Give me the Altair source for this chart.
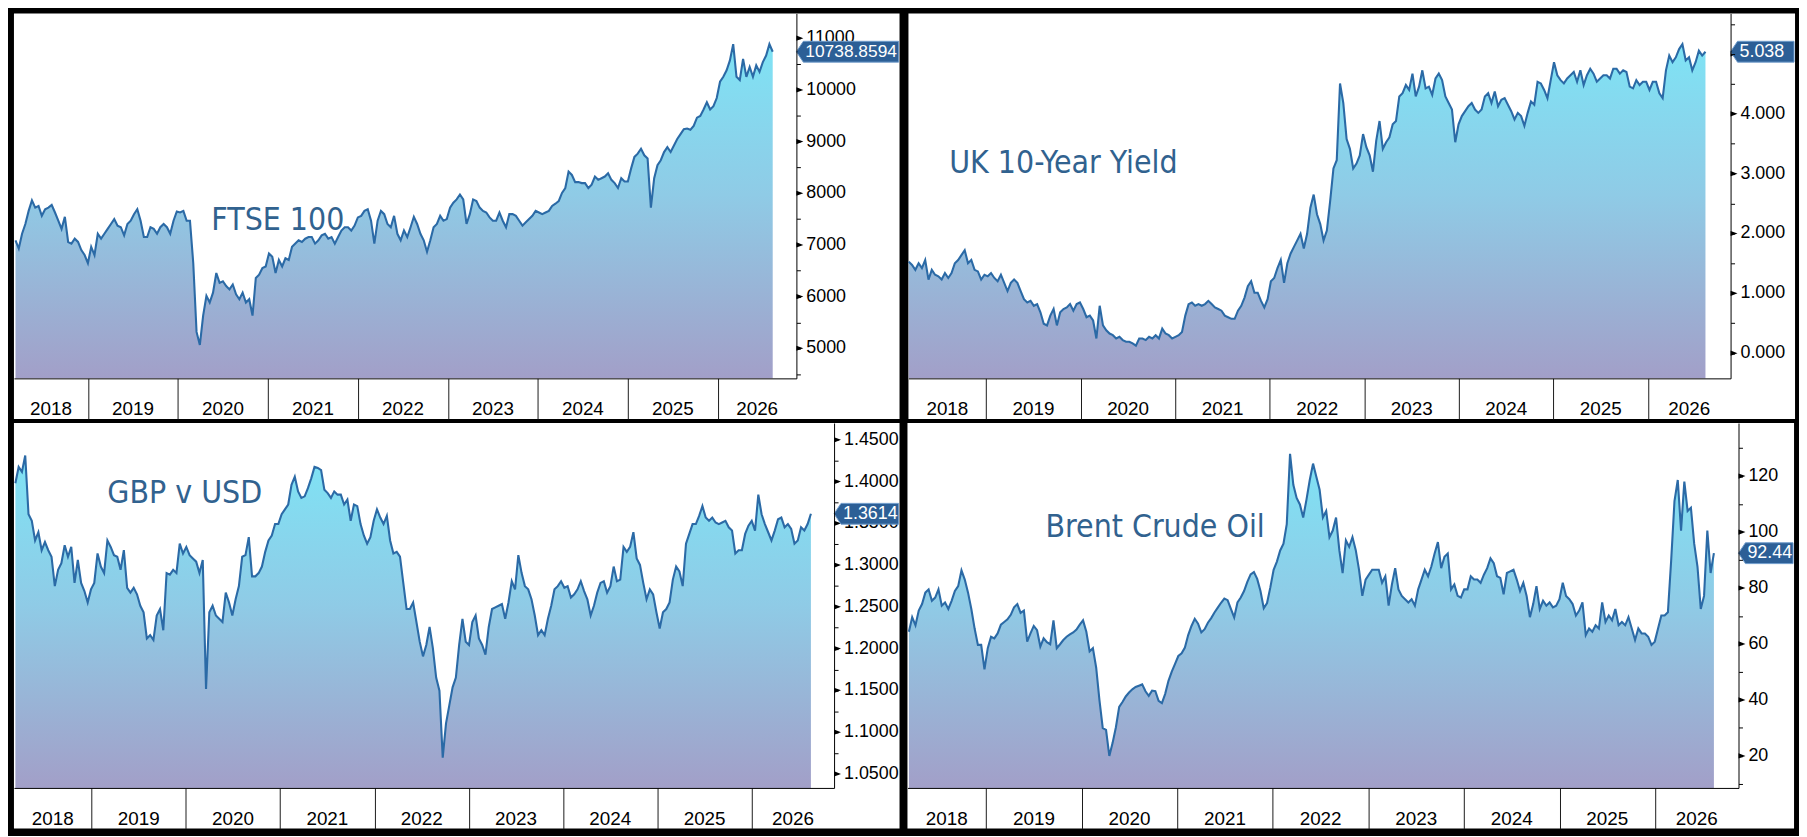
import altair as alt
import numpy as np
import pandas as pd

# ---------------- shared time axis (fractional years) ----------------
X_DOMAIN = [2018.177, 2026.873]
YEAR_TICKS = [2019, 2020, 2021, 2022, 2023, 2024, 2025, 2026]
YEAR_LABELS = ["2018", "2019", "2020", "2021", "2022", "2023", "2024", "2025", "2026"]

# ---------------- FTSE 100 ----------------
FTSE_T0, FTSE_STEP = 2018.194, 0.03659
FTSE = [
    7089, 6930, 7215, 7405, 7658, 7861, 7722, 7753, 7563, 7690,
    7722, 7772, 7627, 7468, 7310, 7544, 7057, 7025, 7120, 7057,
    6899, 6804, 6646, 6962, 6804, 7215, 7120, 7215, 7310, 7405,
    7500, 7373, 7342, 7184, 7405, 7468, 7595, 7690, 7468, 7152,
    7152, 7342, 7310, 7215, 7342, 7405, 7342, 7215, 7468, 7646,
    7627, 7658, 7468, 7468, 6646, 5316, 5063, 5633, 6013, 5886,
    6076, 6456, 6266, 6297, 6203, 6139, 6234, 6044, 5949, 6076,
    5886, 5949, 5633, 6361, 6424, 6551, 6582, 6835, 6772, 6456,
    6709, 6582, 6741, 6709, 6962, 7025, 7089, 7057, 7120, 7152,
    7152, 7025, 7089, 7184, 7215, 7120, 7152, 7025, 7152, 7278,
    7342, 7342, 7278, 7373, 7532, 7563, 7658, 7690, 7468, 7025,
    7468, 7658, 7595, 7405, 7342, 7563, 7215, 7089, 7278,
    7152, 7342, 7544, 7405, 7215, 7089, 6867, 7089, 7342, 7405,
    7563, 7468, 7500, 7722, 7816, 7880, 7975, 7880, 7405, 7595,
    7880, 7848, 7722, 7658, 7627, 7532, 7468, 7468, 7627, 7468,
    7342, 7595, 7595, 7563, 7468, 7373, 7437, 7500, 7563, 7658,
    7627, 7595, 7627, 7658, 7753, 7797, 7848, 8006, 8101, 8418,
    8354, 8215, 8215, 8196, 8196, 8101, 8165, 8323, 8259, 8291,
    8323, 8386, 8259, 8196, 8101, 8291, 8228, 8228, 8481, 8703,
    8766, 8861, 8734, 8671, 7722, 8291, 8544, 8639, 8797, 8892,
    8797, 8924, 9051, 9145, 9241, 9253, 9228, 9304, 9462, 9494,
    9620, 9759, 9620, 9684, 9842, 10158, 10253, 10380, 10570, 10886,
    10253, 10190, 10601, 10253, 10443, 10253, 10475, 10348, 10538, 10664,
    10886, 10738.8594,
]
FTSE_YDOM = [4417, 11480]
FTSE_MINOR = list(range(4500, 11001, 500))
FTSE_MAJOR = list(range(5000, 11001, 1000))

# ---------------- UK 10-Year Yield ----------------
UK_T0, UK_STEP = 2018.180, 0.034824
UK10Y = [
    1.530, 1.475, 1.393, 1.503, 1.421, 1.557, 1.230, 1.393, 1.311, 1.284,
    1.230, 1.339, 1.257, 1.339, 1.503, 1.557, 1.639, 1.721, 1.503, 1.557,
    1.393, 1.366, 1.230, 1.311, 1.284, 1.339, 1.257, 1.202, 1.311, 1.175,
    1.038, 1.175, 1.230, 1.175, 1.038, 0.902, 0.847, 0.874, 0.792, 0.820,
    0.683, 0.492, 0.464, 0.628, 0.738, 0.464, 0.683, 0.738, 0.765, 0.820,
    0.710, 0.820, 0.847, 0.738, 0.601, 0.628, 0.546, 0.246, 0.792, 0.464,
    0.383, 0.328, 0.301, 0.246, 0.273, 0.219, 0.191, 0.191, 0.164, 0.126,
    0.246, 0.246, 0.219, 0.273, 0.246, 0.301, 0.246, 0.410, 0.328, 0.301,
    0.246, 0.273, 0.301, 0.355, 0.628, 0.820, 0.847, 0.792, 0.820, 0.792,
    0.820, 0.874, 0.820, 0.765, 0.738, 0.710, 0.628, 0.601, 0.574, 0.574,
    0.710, 0.792, 0.929, 1.120, 1.202, 1.011, 1.011, 0.874, 0.765, 0.902,
    1.202, 1.257, 1.421, 1.557, 1.175, 1.503, 1.667, 1.776, 1.885, 1.995,
    1.749, 1.995, 2.432, 2.650, 2.322,
    2.158, 1.885, 2.049, 2.541, 3.087, 3.224, 4.508, 4.180, 3.579, 3.415,
    3.087, 3.169, 3.306, 3.661, 3.443, 3.306, 3.033, 3.552, 3.880, 3.415,
    3.525, 3.607, 3.825, 3.880, 4.290, 4.344, 4.481, 4.399, 4.672, 4.290,
    4.454, 4.727, 4.426, 4.454, 4.317, 4.590, 4.672, 4.563, 4.290, 4.180,
    4.071, 3.525, 3.825, 3.962, 4.044, 4.126, 4.180, 4.071, 4.016, 4.071,
    4.290, 4.344, 4.180, 4.372, 4.126, 4.235, 4.262, 4.153, 4.044, 3.907,
    4.016, 3.962, 3.798, 4.016, 4.208, 4.153, 4.536, 4.508, 4.399, 4.262,
    4.563, 4.863, 4.645, 4.563, 4.508, 4.590, 4.645, 4.699, 4.536, 4.727,
    4.481, 4.645, 4.754, 4.672, 4.536, 4.590, 4.645, 4.645, 4.590, 4.754,
    4.754, 4.672, 4.727, 4.699, 4.454, 4.426, 4.563, 4.481, 4.536, 4.536,
    4.399, 4.536, 4.536, 4.344, 4.262, 4.727, 4.973, 4.863, 4.945, 5.082,
    5.164, 4.891, 4.945, 4.727, 4.863, 5.055, 4.973, 5.038,
]
UK_YDOM = [-0.421, 5.678]
UK_MINOR = [0.0, 0.5, 1.0, 1.5, 2.0, 2.5, 3.0, 3.5, 4.0, 4.5, 5.0, 5.5]
UK_MAJOR = [0.0, 1.0, 2.0, 3.0, 4.0, 5.0]

# ---------------- GBP v USD ----------------
GBP_T0, GBP_STEP = 2018.192, 0.034857
GBPUSD = [
    1.3980, 1.4175, 1.4116, 1.4312, 1.3608, 1.3530, 1.3295, 1.3393, 1.3178, 1.3276,
    1.3178, 1.3100, 1.2748, 1.2943, 1.3022, 1.3237, 1.3100, 1.3217, 1.2787, 1.3061,
    1.2787, 1.2689, 1.2552, 1.2709, 1.2787, 1.3139, 1.2982, 1.2904, 1.3295, 1.3217,
    1.3119, 1.3100, 1.2943, 1.3178, 1.2728, 1.2670, 1.2728, 1.2650, 1.2513, 1.2435,
    1.2122, 1.2161, 1.2103, 1.2396, 1.2474, 1.2220, 1.2904, 1.2885, 1.2943, 1.2904,
    1.3256, 1.3139, 1.3217, 1.3119, 1.3080, 1.3041, 1.2904, 1.3061, 1.1516, 1.2435,
    1.2513, 1.2396, 1.2357, 1.2318, 1.2670, 1.2552, 1.2396, 1.2591, 1.2748, 1.3100,
    1.3119, 1.3334, 1.2865, 1.2865, 1.2904, 1.2982, 1.3158, 1.3295, 1.3354, 1.3491,
    1.3491, 1.3608, 1.3667, 1.3725, 1.3960, 1.4058, 1.3882, 1.3804, 1.3823, 1.3921,
    1.4038, 1.4175, 1.4163, 1.4136, 1.3901, 1.3862, 1.3804, 1.3882, 1.3843, 1.3843,
    1.3725, 1.3784, 1.3530, 1.3725, 1.3706, 1.3491, 1.3354, 1.3256, 1.3334, 1.3530,
    1.3667, 1.3569, 1.3491, 1.3589, 1.3295, 1.3139, 1.3158, 1.3100, 1.2787, 1.2474,
    1.2474, 1.2552, 1.2318, 1.2083, 1.1907,
    1.2044, 1.2259, 1.2005, 1.1653, 1.1497, 1.0695, 1.1106, 1.1321, 1.1536, 1.1653,
    1.2044, 1.2357, 1.2083, 1.2044, 1.2318, 1.2396, 1.2122, 1.2044, 1.1927, 1.2259,
    1.2474, 1.2494, 1.2513, 1.2533, 1.2357, 1.2552, 1.2807, 1.2709, 1.3119, 1.2904,
    1.2748, 1.2709, 1.2591, 1.2396, 1.2161, 1.2220, 1.2161, 1.2357, 1.2513, 1.2709,
    1.2748, 1.2807, 1.2728, 1.2748, 1.2611, 1.2650, 1.2709, 1.2807, 1.2689, 1.2591,
    1.2396, 1.2513, 1.2670, 1.2787, 1.2807, 1.2670, 1.2748, 1.2982, 1.2807, 1.2826,
    1.3217, 1.3158, 1.3217, 1.3393, 1.3080, 1.3002, 1.2787, 1.2591, 1.2709, 1.2650,
    1.2435, 1.2240, 1.2435, 1.2474, 1.2552, 1.2826, 1.2982, 1.2924, 1.2748, 1.3256,
    1.3373, 1.3491, 1.3491, 1.3589, 1.3706, 1.3569, 1.3530, 1.3569, 1.3510, 1.3491,
    1.3510, 1.3530, 1.3452, 1.3413, 1.3139, 1.3178, 1.3178, 1.3373, 1.3471, 1.3530,
    1.3413, 1.3843, 1.3608, 1.3491, 1.3393, 1.3295, 1.3413, 1.3549, 1.3569, 1.3452,
    1.3491, 1.3432, 1.3256, 1.3295, 1.3452, 1.3413, 1.3491, 1.3614,
]
GBP_YDOM = [1.0332, 1.4701]
GBP_MINOR = [round(1.05 + 0.025 * i, 4) for i in range(17)]
GBP_MAJOR = [1.05, 1.10, 1.15, 1.20, 1.25, 1.30, 1.35, 1.40, 1.45]

# ---------------- Brent Crude Oil ----------------
BRENT_T0, BRENT_STEP = 2018.192, 0.034382
BRENT = [
    64.34, 69.59, 66.68, 71.93, 74.26, 78.34, 79.51, 75.43, 76.59, 79.51,
    73.68, 74.84, 72.51, 75.43, 78.93, 80.68, 86.28, 83.01, 78.34, 72.51,
    65.51, 59.67, 59.67, 50.92, 58.51, 62.59, 62.01, 63.76, 66.91, 67.84,
    68.78, 70.41, 73.09, 74.26, 71.11, 71.93, 60.84, 63.76, 66.44, 64.92,
    59.09, 62.01, 60.61, 59.91, 68.43, 58.51, 59.91, 61.42, 62.59, 63.41,
    64.11, 65.16, 66.91, 68.43, 64.34, 57.34, 58.51, 51.51, 39.84, 29.92,
    29.33, 20.00, 24.67, 30.26, 37.50, 39.25, 41.24, 42.64, 43.80, 44.62,
    45.09, 45.55, 43.10, 41.47, 43.34, 43.10, 39.72, 38.90, 42.17, 46.84,
    50.10, 52.91, 55.71, 56.64, 58.74, 63.17, 66.44, 69.01, 67.26, 64.11,
    65.28, 67.61, 69.24, 71.23, 72.98, 74.73, 76.24, 75.66, 72.51, 69.48,
    74.84, 76.59, 78.93, 82.20, 84.88, 85.70, 83.25, 78.93, 72.74, 74.61,
    80.21, 86.51, 89.43, 93.40, 95.85, 102.85, 127.94, 116.85, 112.18, 109.85,
    105.18, 111.60, 118.60, 124.44, 119.77, 115.10, 105.18, 107.52,
    98.18, 100.52, 105.18, 93.51, 85.35, 97.01, 94.68, 98.18, 93.51, 86.51,
    77.18, 83.01, 84.76, 86.51, 86.51, 86.51, 81.85, 84.18, 73.68, 81.26,
    87.10, 79.51, 77.18, 76.01, 74.84, 76.01, 73.68, 79.51, 83.01, 86.51,
    84.18, 87.68, 92.35, 96.43, 87.10, 91.18, 92.35, 79.51, 81.26, 77.18,
    76.59, 79.51, 79.51, 84.18, 83.01, 83.01, 81.85, 84.76, 87.10, 90.60,
    88.85, 84.18, 83.60, 77.76, 85.35, 85.93, 86.51, 83.01, 78.93, 81.85,
    77.18, 69.59, 74.26, 80.68, 72.51, 75.43, 73.68, 74.84, 73.09, 73.68,
    76.01, 81.85, 77.18, 76.01, 74.26, 70.18, 71.93, 74.84, 63.17, 65.51,
    64.34, 66.68, 65.51, 74.84, 67.84, 70.18, 68.43, 72.51, 66.68, 67.84,
    66.68, 69.59, 65.51, 61.42, 65.51, 63.76, 63.76, 62.59, 59.67, 60.84,
    65.51, 70.18, 70.18, 71.34, 90.01, 111.02, 118.60, 100.52, 118.02, 107.52,
    108.68, 95.85, 87.68, 72.51, 77.18, 100.52, 85.35, 92.44,
]
BRENT_YDOM = [8.56, 138.96]
BRENT_MINOR = list(range(10, 131, 10))
BRENT_MAJOR = [20, 40, 60, 80, 100, 120]

# ---------------- styling ----------------
LINE_COLOR = "#2B6AA6"
TITLE_COLOR = "#31628F"
FLAG_FILL = "#2C5F96"
FLAG_EDGE = "#6F9CCB"
AXIS_FONT = "Liberation Sans, Arial, sans-serif"
TITLE_FONT = "DejaVu Sans Condensed, Liberation Sans Narrow, DejaVu Sans, sans-serif"
GRAD = alt.Gradient(
    gradient="linear",
    stops=[
        alt.GradientStop(color="#7FE3F5", offset=0),
        alt.GradientStop(color="#8FCBE6", offset=0.45),
        alt.GradientStop(color="#A29FC8", offset=1),
    ],
    x1=0, x2=0, y1=0, y2=1,
)
TRI = "M-1,-0.75 L1,0 L-1,0.75 Z"


def year_label_positions():
    pos = [(X_DOMAIN[0] + 2019) / 2]
    pos += [y + 0.5 for y in range(2019, 2026)]
    pos += [(2026 + X_DOMAIN[1]) / 2]
    return pos


def panel(values, t0, step, ydom, minor_vals, major_vals, fmt, last_text,
          title, title_t, title_v, W, H, R, B, flag_font=18):
    t = t0 + step * np.arange(len(values))
    df = pd.DataFrame({"t": t, "v": values})
    xs = alt.Scale(domain=X_DOMAIN, nice=False, zero=False)
    ys = alt.Scale(domain=ydom, nice=False, zero=False)
    X = alt.X("t:Q", scale=xs,
              axis=alt.Axis(values=YEAR_TICKS, labels=False, tickSize=B,
                            tickColor="#1a1a1a", domainColor="#000000",
                            grid=False, title=None, zindex=1))
    Y = alt.Y("v:Q", scale=ys,
              axis=alt.Axis(orient="right", values=minor_vals, labels=False,
                            tickSize=4, tickColor="#000000",
                            domainColor="#000000", grid=False, title=None,
                            zindex=1))

    bg = alt.Chart(pd.DataFrame({"a": [0]})).mark_rect(color="white").encode(
        x=alt.value(0), x2=alt.value(W + R), y=alt.value(0), y2=alt.value(H + B))

    area = alt.Chart(df).mark_area(color=GRAD, opacity=1).encode(
        x=X, y=Y, y2=alt.datum(ydom[0]))
    line = alt.Chart(df).mark_line(color=LINE_COLOR, strokeWidth=2.1).encode(x=X, y=Y)

    ttl = alt.Chart(pd.DataFrame({"t": [title_t], "v": [title_v], "label": [title]})).mark_text(
        align="left", baseline="alphabetic", font=TITLE_FONT, fontSize=32,
        color=TITLE_COLOR).encode(x=X, y=Y, text="label:N")

    years = alt.Chart(pd.DataFrame({"t": year_label_positions(), "label": YEAR_LABELS})).mark_text(
        align="center", baseline="middle", font=AXIS_FONT, fontSize=19,
        color="#000000").encode(x=X, y=alt.value(H + 31), text="label:N")

    ylab = alt.Chart(pd.DataFrame({"v": major_vals,
                                   "label": [format(v, fmt) for v in major_vals]})).mark_text(
        align="left", baseline="middle", font=AXIS_FONT, fontSize=18,
        color="#000000").encode(x=alt.value(W + 10), y=Y, text="label:N")

    tris = alt.Chart(pd.DataFrame({"v": major_vals})).mark_point(
        shape=TRI, size=49, filled=True, opacity=1, color="#000000",
        strokeWidth=0).encode(x=alt.value(W + 3.5), y=Y)

    w = R - 1
    r = w / 2.0
    hh = 10.5 / r
    tip = -1 + 7.0 / r
    flag_path = f"M-1,0 L{tip:.4f},{-hh:.4f} L1,{-hh:.4f} L1,{hh:.4f} L{tip:.4f},{hh:.4f} Z"
    flag = alt.Chart(pd.DataFrame({"v": [values[-1]]})).mark_point(
        shape=flag_path, size=w * w, filled=True, opacity=1, fill=FLAG_FILL,
        stroke=FLAG_EDGE, strokeWidth=1).encode(x=alt.value(W + r), y=Y)
    flag_txt = alt.Chart(pd.DataFrame({"v": [values[-1]], "label": [last_text]})).mark_text(
        align="left", baseline="middle", font=AXIS_FONT, fontSize=flag_font,
        color="#ffffff").encode(x=alt.value(W + 9), y=Y, text="label:N")

    return alt.layer(bg, area, line, ttl, years, ylab, tris, flag, flag_txt).properties(
        width=W, height=H)


p_ftse = panel(FTSE, FTSE_T0, FTSE_STEP, FTSE_YDOM, FTSE_MINOR, FTSE_MAJOR, "d",
               "10738.8594", "FTSE 100", 2020.371, 7297, 789, 368, 104, 41, flag_font=17.5)
p_uk = panel(UK10Y, UK_T0, UK_STEP, UK_YDOM, UK_MINOR, UK_MAJOR, ".3f",
             "5.038", "UK 10-Year Yield", 2018.608, 3.005, 829, 368, 65, 41)
p_gbp = panel(GBPUSD, GBP_T0, GBP_STEP, GBP_YDOM, GBP_MINOR, GBP_MAJOR, ".4f",
              "1.3614", "GBP v USD", 2019.167, 1.3746, 827, 368, 66, 41)
p_brent = panel(BRENT, BRENT_T0, BRENT_STEP, BRENT_YDOM, BRENT_MINOR, BRENT_MAJOR, "d",
                "92.44", "Brent Crude Oil", 2019.621, 98.18, 838, 368, 56, 41)

top = alt.hconcat(p_ftse, p_uk, spacing=4)
bottom = alt.hconcat(p_gbp, p_brent, spacing=4)
chart = alt.vconcat(top, bottom, spacing=3).properties(
    background="#000000",
    padding={"left": 3, "top": 2, "right": 3, "bottom": 3},
).configure_view(strokeWidth=0)

chart.save("out.html", embed_options={"renderer": "svg", "actions": False})
